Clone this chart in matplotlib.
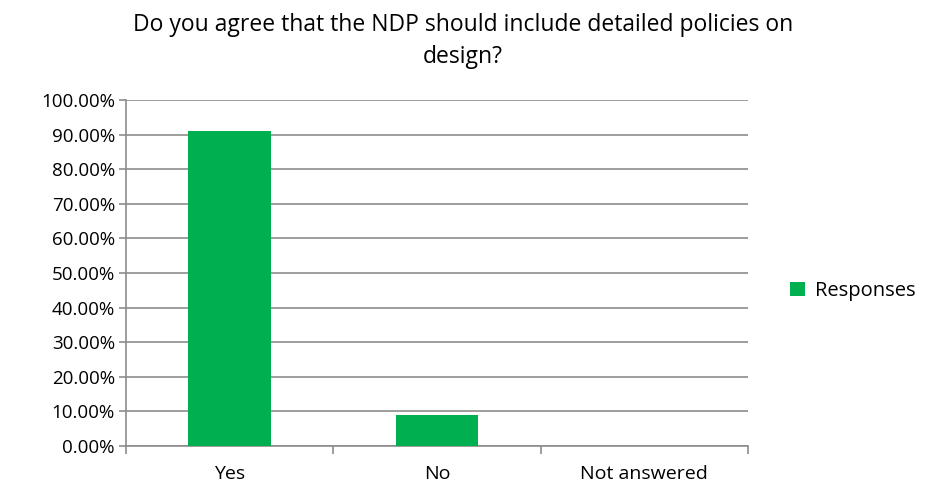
import matplotlib.pyplot as plt
from matplotlib.ticker import FixedLocator, NullFormatter, FuncFormatter

categories = ['Yes', 'No', 'Not answered']
responses = [90.91, 9.09, 0.0]
series_name = 'Responses'

plt.rcParams['font.family'] = ['Open Sans', 'DejaVu Sans']

fig = plt.figure(figsize=(9.26, 4.88), dpi=100)
ax = fig.add_axes([126 / 926, 1 - 446 / 488, (748 - 126) / 926, (446 - 100) / 488])

x = range(len(categories))
ax.bar(x, responses, width=0.4, color='#00B050', label=series_name, zorder=3)

ax.set_xlim(-0.5, len(categories) - 0.5)
ax.set_ylim(0, 100)
ax.set_yticks(range(0, 101, 10))
ax.yaxis.set_major_formatter(FuncFormatter(lambda v, p: f'{v:.2f}%'))
ax.grid(axis='y', color='#8c8c8c', linewidth=1.2, zorder=0)

# category labels in middle, tick marks at boundaries
ax.set_xticks(list(x))
ax.set_xticklabels(categories)
ax.tick_params(axis='x', which='major', length=0, pad=14, labelsize=14)
ax.xaxis.set_minor_locator(FixedLocator([-0.5, 0.5, 1.5, 2.5]))
ax.xaxis.set_minor_formatter(NullFormatter())
ax.tick_params(axis='x', which='minor', length=6, width=1.2, color='#8c8c8c', direction='out')
ax.tick_params(axis='y', length=5, width=1.2, color='#8c8c8c', labelsize=13.5, pad=3)

for s in ['top', 'right']:
    ax.spines[s].set_visible(False)
for s in ['left', 'bottom']:
    ax.spines[s].set_color('#8c8c8c')
    ax.spines[s].set_linewidth(1.2)

fig.text(0.5, 1 - 41 / 488, 'Do you agree that the NDP should include detailed policies on\ndesign?',
         ha='center', va='center', fontsize=16.5, linespacing=1.45)

fig.legend(loc='center left', bbox_to_anchor=(772 / 926, 1 - 291 / 488), frameon=False,
           fontsize=14.5, handlelength=0.75, handleheight=0.75, handletextpad=0.5)

fig.savefig('out.png', dpi=100)
